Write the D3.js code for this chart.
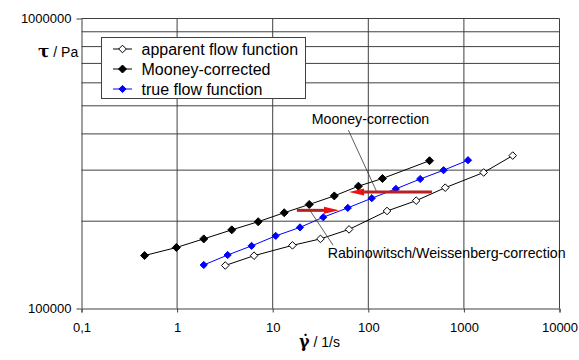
<!DOCTYPE html>
<html><head><meta charset="utf-8">
<script src="https://cdn.jsdelivr.net/npm/d3@7/dist/d3.min.js"></script>
<style>html,body{margin:0;padding:0;background:#fff;}svg{display:block;font-family:"Liberation Sans",Arial,sans-serif;}</style>
</head><body><svg id="c" width="579" height="360"></svg>
<script>
// ---- data (shear rate 1/s, shear stress Pa) ----
const seriesNames = ["apparent flow function", "Mooney-corrected", "true flow function"];
const apparentX = [3.19, 6.38, 16.1, 31.6, 62.9, 157, 317, 638, 1609, 3240];
const apparentY = [140700, 152100, 165100, 173800, 187400, 216900, 235400, 261000, 294400, 336700];
const mooneyX = [0.457, 0.983, 1.90, 3.73, 7.05, 13.2, 24.1, 44.1, 78.8, 140.6, 437];
const mooneyY = [152300, 162300, 173800, 186700, 199200, 213900, 228400, 244500, 264100, 280700, 323300];
const trueX = [1.90, 3.38, 6.01, 10.75, 19.3, 33.8, 61.0, 108.8, 194.2, 349, 612.6, 1104];
const trueY = [141300, 152900, 164400, 178000, 190400, 206400, 222300, 240100, 258500, 279600, 299800, 324600];
const xTicks = [0.1, 1, 10, 100, 1000, 10000];
const xTickLabels = ["0,1", "1", "10", "100", "1000", "10000"];
const yTicks = [100000, 1000000];
const yTickLabels = ["100000", "1000000"];
const yGrid = [200000, 300000, 400000, 500000, 600000, 700000, 800000, 900000, 1000000];
// annotation arrows: [fromX, toX, y]
const arrowRabino = [17.9, 49.4, 218000];
const arrowMooney = [463, 62.9, 252100];
const leaderRabino = [[24.5, 218000], [42.8, 165300]];
const leaderMooney = [[61.9, 411900], [122.7, 252300]];
const labelMooney = ["Mooney-correction", 25.6, 432000];
const labelRabino = ["Rabinowitsch/Weissenberg-correction", 37.6, 149100];

const svg = d3.select("#c");
const x = d3.scaleLog().domain([0.1, 10000]).range([81.5, 559.5]);
const y = d3.scaleLog().domain([100000, 1000000]).range([308.5, 18.5]);
const gridCol = "#404040";

// gridlines
svg.append("g").selectAll("line").data(yGrid).join("line")
  .attr("x1", x(0.1)).attr("x2", x(10000)).attr("y1", d => y(d)).attr("y2", d => y(d))
  .attr("stroke", gridCol).attr("stroke-width", 1);
svg.append("g").selectAll("line").data(xTicks.slice(1)).join("line")
  .attr("x1", d => x(d)).attr("x2", d => x(d)).attr("y1", y(1e5)).attr("y2", y(1e6))
  .attr("stroke", gridCol).attr("stroke-width", 1);

// axes
const xAxis = d3.axisBottom(x).tickValues(xTicks).tickFormat((d, i) => xTickLabels[i]).tickSize(4).tickPadding(6);
const gx = svg.append("g").attr("transform", `translate(0,${y(1e5)})`).call(xAxis);
const yAxis = d3.axisLeft(y).tickValues(yTicks).tickFormat((d, i) => yTickLabels[i]).tickSize(5).tickPadding(5);
const gy = svg.append("g").attr("transform", `translate(${x(0.1)},0)`).call(yAxis);
[gx, gy].forEach(g => {
  g.select(".domain").attr("stroke", gridCol);
  g.selectAll(".tick line").attr("stroke", gridCol);
  g.selectAll(".tick text").attr("fill", "#000").style("font-size", "13px").style("font-family", '"Liberation Sans",Arial,sans-serif');
});
gx.selectAll(".tick text").attr("dy", "1.0em");
gy.select(".domain").attr("d", `M0.5,${y(1e6)}V${y(1e5)}`);

// axis titles
svg.append("text").attr("x", 38).attr("y", 57).attr("fill", "#000")
  .call(t => { t.append("tspan").text("τ").style("font-size", "17px").style("font-weight", "bold").style("font-family", '"DejaVu Serif",serif');
               t.append("tspan").text(" / Pa").style("font-size", "14px"); });
svg.append("text").attr("x", 299).attr("y", 347).attr("fill", "#000")
  .call(t => { t.append("tspan").text("γ̇").style("font-size", "16px").style("font-weight", "bold").style("font-family", '"DejaVu Serif",serif');
               t.append("tspan").text(" / 1/s").style("font-size", "14px"); });

// series
const line = d3.line().x(d => x(d[0])).y(d => y(d[1]));
const diamond = r => `M0,${-r}L${r},0L0,${r}L${-r},0Z`;
const series = [
  { xs: mooneyX, ys: mooneyY, stroke: "#000", fill: "#000", r: 4 },
  { xs: trueX, ys: trueY, stroke: "#0000ff", fill: "#0000ff", r: 3.6 },
  { xs: apparentX, ys: apparentY, stroke: "#000", fill: "#fff", r: 3.8 }
];
series.forEach(s => {
  const pts = s.xs.map((v, i) => [v, s.ys[i]]);
  svg.append("path").datum(pts).attr("d", line).attr("fill", "none").attr("stroke", s.stroke).attr("stroke-width", 1);
  svg.append("g").selectAll("path").data(pts).join("path")
    .attr("transform", d => `translate(${x(d[0])},${y(d[1])})`)
    .attr("d", diamond(s.r)).attr("fill", s.fill).attr("stroke", s.stroke).attr("stroke-width", 1);
});

// leader lines
[leaderRabino, leaderMooney].forEach(l => {
  svg.append("line").attr("x1", x(l[0][0])).attr("y1", y(l[0][1])).attr("x2", x(l[1][0])).attr("y2", y(l[1][1]))
    .attr("stroke", "#333").attr("stroke-width", 0.8);
});

// arrows
function arrow(a) {
  const x0 = x(a[0]), x1 = x(a[1]), yy = y(a[2]);
  const dir = Math.sign(x1 - x0), hl = 15;
  svg.append("line").attr("x1", x0).attr("x2", x1 - dir * hl).attr("y1", yy).attr("y2", yy)
    .attr("stroke", "#b52222").attr("stroke-width", 3);
  svg.append("path").attr("d", `M${x1},${yy}L${x1 - dir * hl},${yy - 3.5}L${x1 - dir * hl},${yy + 3.5}Z`).attr("fill", "#ee1010");
}
arrow(arrowRabino);
arrow(arrowMooney);

// annotation labels
[labelMooney, labelRabino].forEach(l => {
  svg.append("text").attr("x", x(l[1])).attr("y", y(l[2])).text(l[0]).attr("fill", "#000").style("font-size", "14.2px");
});

// legend
const lg = svg.append("g");
lg.append("rect").attr("x", 101.5).attr("y", 37.5).attr("width", 204).attr("height", 61)
  .attr("fill", "#fff").attr("stroke", gridCol).attr("stroke-width", 1);
const legendSeries = [series[2], series[0], series[1]];
seriesNames.forEach((n, i) => {
  const cy = 49 + i * 20;
  lg.append("line").attr("x1", 113).attr("x2", 132).attr("y1", cy).attr("y2", cy).attr("stroke", legendSeries[i].stroke);
  lg.append("path").attr("transform", `translate(122.5,${cy})`).attr("d", diamond(legendSeries[i].r))
    .attr("fill", legendSeries[i].fill).attr("stroke", legendSeries[i].stroke);
  lg.append("text").attr("x", 141.5).attr("y", cy + 5.5).text(n).attr("fill", "#000").style("font-size", "16px");
});
</script></body></html>
